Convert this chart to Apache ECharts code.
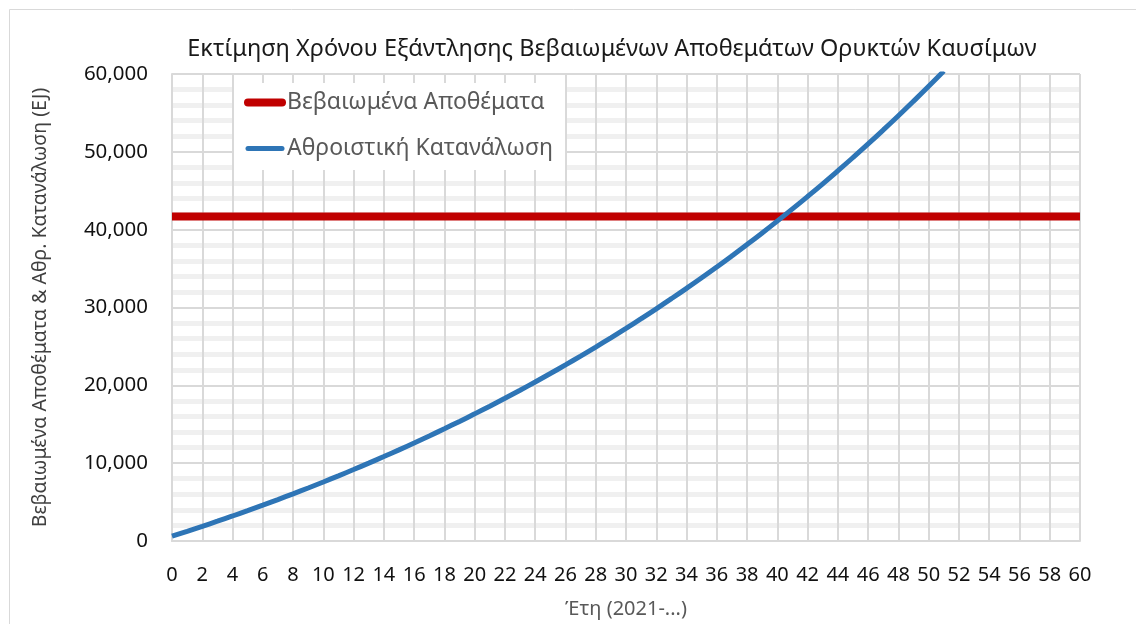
<!DOCTYPE html>
<html>
<head>
<meta charset="utf-8">
<script src="https://cdn.jsdelivr.net/npm/echarts@6/dist/echarts.min.js"></script>
<style>
  html, body { margin: 0; padding: 0; background: #fff; }
  #chart { width: 1136px; height: 624px; }
</style>
</head>
<body>
<div id="chart"></div>
<script>
  // years from 2021 (0 = 2021)
  const years = [0, 1, 2, 3, 4, 5, 6, 7, 8, 9, 10, 11, 12, 13, 14, 15, 16, 17, 18, 19, 20,
    21, 22, 23, 24, 25, 26, 27, 28, 29, 30, 31, 32, 33, 34, 35, 36, 37, 38, 39, 40,
    41, 42, 43, 44, 45, 46, 47, 48, 49, 50, 51];
  // cumulative consumption (EJ)
  const cumulative = [614, 1241, 1884, 2541, 3214, 3902, 4604, 5324, 6061, 6814, 7584,
    8372, 9179, 10004, 10847, 11711, 12594, 13498, 14422, 15368, 16335,
    17324, 18337, 19372, 20432, 21515, 22623, 23758, 24918, 26105, 27319,
    28562, 29832, 31133, 32462, 33822, 35214, 36638, 38094, 39584, 41109,
    42668, 44263, 45894, 47565, 49272, 51019, 52807, 54634, 56505, 58418, 60376];
  // proven reserves (EJ), flat line across the range
  const reserveYears = [0, 60];
  const reserves = [41700, 41700];

  const FONT = 'Noto Sans';

  const chart = echarts.init(document.getElementById('chart'));
  const option = {
    backgroundColor: '#fff',
    animation: false,
    title: {
      text: 'Εκτίμηση Χρόνου Εξάντλησης Βεβαιωμένων Αποθεμάτων Ορυκτών Καυσίμων',
      left: 607,
      textAlign: 'center',
      top: 32,
      textStyle: { fontFamily: FONT, fontSize: 23.5, fontWeight: 'normal', color: '#1a1a1a' }
    },
    graphic: [{
      type: 'rect',
      left: 7, top: 7,
      shape: { width: 1140, height: 640 },
      style: { fill: 'none', stroke: '#d9d9d9', lineWidth: 1 },
      silent: true
    }],
    legend: {
      orient: 'vertical',
      left: 234,
      top: 83,
      padding: [8, 12, 10, 10],
      itemGap: 23,
      itemWidth: 34,
      itemHeight: 4,
      backgroundColor: '#fff',
      textStyle: { fontFamily: FONT, fontSize: 23, color: '#595959' },
      lineStyle: { width: 'inherit', cap: 'round' }
    },
    grid: { left: 172, right: 56, top: 74, bottom: 82 },
    xAxis: {
      type: 'value',
      min: 0, max: 60, interval: 2,
      name: 'Έτη (2021-...)',
      nameLocation: 'middle',
      nameGap: 58,
      nameTextStyle: { fontFamily: FONT, fontSize: 20, color: '#595959', verticalAlign: 'top' },
      axisLine: { lineStyle: { color: '#d9d9d9', width: 2 } },
      axisTick: { show: false },
      axisLabel: { fontFamily: FONT, fontSize: 20, color: '#111', margin: 24 },
      splitLine: { show: true, lineStyle: { color: '#d9d9d9', width: 2 } }
    },
    yAxis: {
      type: 'value',
      min: 0, max: 60000, interval: 10000,
      name: 'Βεβαιωμένα Αποθέματα & Αθρ. Κατανάλωση (EJ)',
      nameLocation: 'middle',
      nameGap: 122,
      nameTextStyle: { fontFamily: FONT, fontSize: 19.5, color: '#404040' },
      axisLine: { show: true, lineStyle: { color: '#d9d9d9', width: 2 } },
      axisTick: { show: false },
      axisLabel: {
        fontFamily: FONT, fontSize: 20.5, color: '#111', margin: 24,
        formatter: v => v.toLocaleString('en-US')
      },
      splitLine: { show: true, lineStyle: { color: '#d9d9d9', width: 2 } },
      minorTick: { show: false, splitNumber: 5 },
      minorSplitLine: { show: true, lineStyle: { color: '#f0f0f0', width: 5 } }
    },
    series: [
      {
        name: 'Βεβαιωμένα Αποθέματα',
        type: 'line',
        data: reserveYears.map((x, i) => [x, reserves[i]]),
        symbol: 'none',
        lineStyle: { color: '#c00000', width: 8 },
        itemStyle: { color: '#c00000' },
        z: 3
      },
      {
        name: 'Αθροιστική Κατανάλωση',
        type: 'line',
        data: years.map((x, i) => [x, cumulative[i]]),
        symbol: 'none',
        smooth: true,
        clip: true,
        lineStyle: { color: '#2e75b6', width: 5 },
        itemStyle: { color: '#2e75b6' },
        z: 4
      }
    ]
  };
  chart.setOption(option);
</script>
</body>
</html>
